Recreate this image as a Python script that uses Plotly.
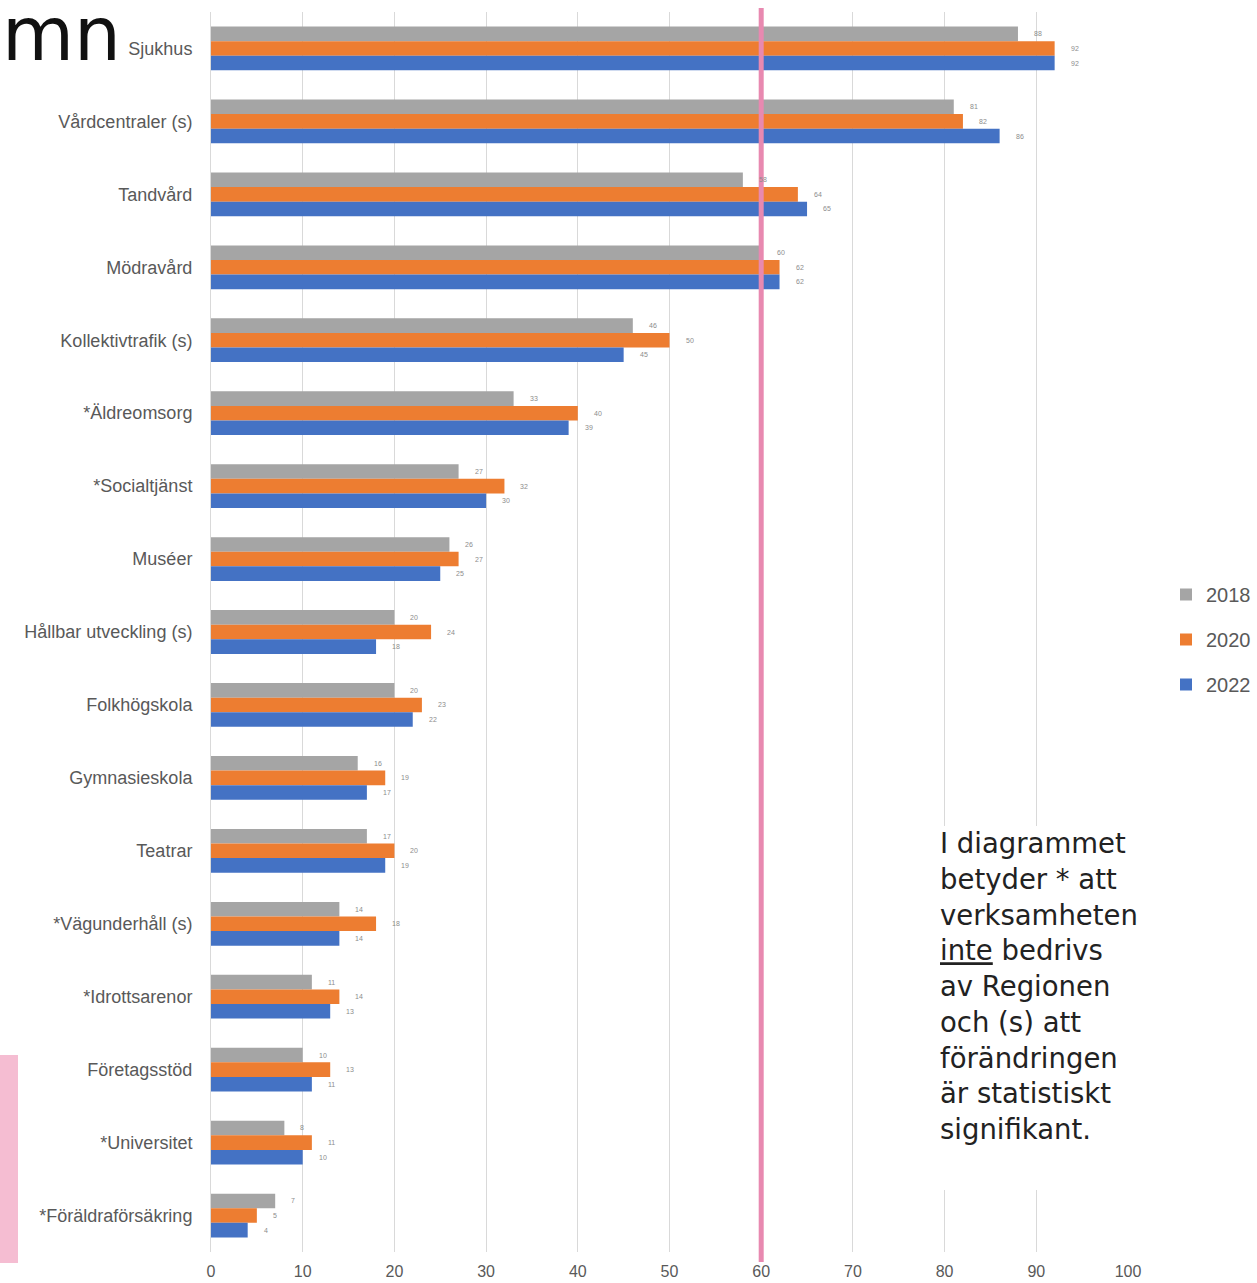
import plotly.graph_objects as go

# Förtroende för verksamheter, andel (%) per mätår
categories = [
    "Sjukhus", "Vårdcentraler (s)", "Tandvård", "Mödravård", "Kollektivtrafik (s)",
    "*Äldreomsorg", "*Socialtjänst", "Muséer", "Hållbar utveckling (s)", "Folkhögskola",
    "Gymnasieskola", "Teatrar", "*Vägunderhåll (s)", "*Idrottsarenor", "Företagsstöd",
    "*Universitet", "*Föräldraförsäkring",
]
values_2018 = [88, 81, 58, 60, 46, 33, 27, 26, 20, 20, 16, 17, 14, 11, 10, 8, 7]
values_2020 = [92, 82, 64, 62, 50, 40, 32, 27, 24, 23, 19, 20, 18, 14, 13, 11, 5]
values_2022 = [92, 86, 65, 62, 45, 39, 30, 25, 18, 22, 17, 19, 14, 13, 11, 10, 4]
years = ["2018", "2020", "2022"]
reference_level = 60
x_ticks = [0, 10, 20, 30, 40, 50, 60, 70, 80, 90, 100]

series = [values_2018, values_2020, values_2022]
colors = ["#A5A5A5", "#ED7D31", "#4472C4"]
label_shift = [14.6, 0, -14.6]

W, H = 1257, 1283
L, R, T, B = 211, 129, 12, 31
pw, ph = W - L - R, H - T - B

def px_x(p):
    return (p - L) / pw

def px_y(p):
    return (H - B - p) / ph

fig = go.Figure()
for i, (year, vals) in enumerate(zip(years, series)):
    fig.add_trace(go.Bar(
        y=categories, x=vals, name=year, orientation="h",
        marker=dict(color=colors[i], line=dict(width=0)),
        legendgroup=year,
    ))

annotations = []
for i, vals in enumerate(series):
    for cat, v in zip(categories, vals):
        annotations.append(dict(
            x=v, y=cat, xref="x", yref="y", text=str(v), showarrow=False,
            xanchor="left", yanchor="middle", xshift=14, yshift=label_shift[i],
            font=dict(size=7, color="#8C8C8C", family="Liberation Sans"),
        ))

note = ("I diagrammet<br>betyder * att<br>verksamheten<br><u>inte</u> bedrivs<br>"
        "av Regionen<br>och (s) att<br>förändringen<br>är statistiskt<br>signifikant.")
annotations.append(dict(
    x=px_x(938), y=px_y(825), xref="paper", yref="paper", text=note, showarrow=False,
    xanchor="left", yanchor="top", align="left",
    font=dict(size=27.5, color="#222222", family="DejaVu Sans"),
))
annotations.append(dict(
    x=px_x(0), y=px_y(-11), xref="paper", yref="paper", text="mn", showarrow=False,
    xanchor="left", yanchor="top",
    font=dict(size=74, color="#111111", family="DejaVu Sans"),
))

shapes = [
    # white backdrop behind the note
    dict(type="rect", xref="paper", yref="paper",
         x0=px_x(932), x1=px_x(1120), y0=px_y(1190), y1=px_y(826),
         fillcolor="white", line=dict(width=0), layer="above"),
    # reference line
    dict(type="line", xref="x", yref="paper", x0=reference_level, x1=reference_level,
         y0=px_y(1262), y1=px_y(8), line=dict(color="#E889B0", width=5), layer="above"),
    # pink side marker
    dict(type="rect", xref="paper", yref="paper",
         x0=px_x(0), x1=px_x(18), y0=px_y(1263), y1=px_y(1055),
         fillcolor="#F5BDD2", line=dict(width=0)),
]

fig.update_layout(
    width=W, height=H,
    margin=dict(l=L, r=R, t=T, b=B, pad=0, autoexpand=False),
    paper_bgcolor="white", plot_bgcolor="white",
    barmode="group", bargap=0.4, bargroupgap=0,
    font=dict(family="Liberation Sans", color="#595959"),
    xaxis=dict(
        range=[0, 100], tickvals=x_ticks, showgrid=True, gridcolor="#D9D9D9",
        gridwidth=1, zeroline=False, showline=False, ticks="",
        tickfont=dict(size=16, color="#595959"), ticklabelstandoff=8,
    ),
    yaxis=dict(
        autorange="reversed", showline=True, linecolor="#D9D9D9", linewidth=1,
        ticks="", tickfont=dict(size=18, color="#595959"), ticklabelstandoff=14,
    ),
    showlegend=True,
    legend=dict(
        x=px_x(1166), y=px_y(575), xanchor="left", yanchor="top",
        font=dict(size=20, color="#595959"), traceorder="grouped",
        tracegroupgap=16, itemwidth=30, bgcolor="rgba(0,0,0,0)",
    ),
    annotations=annotations,
    shapes=shapes,
)

fig.write_html("out.html")
